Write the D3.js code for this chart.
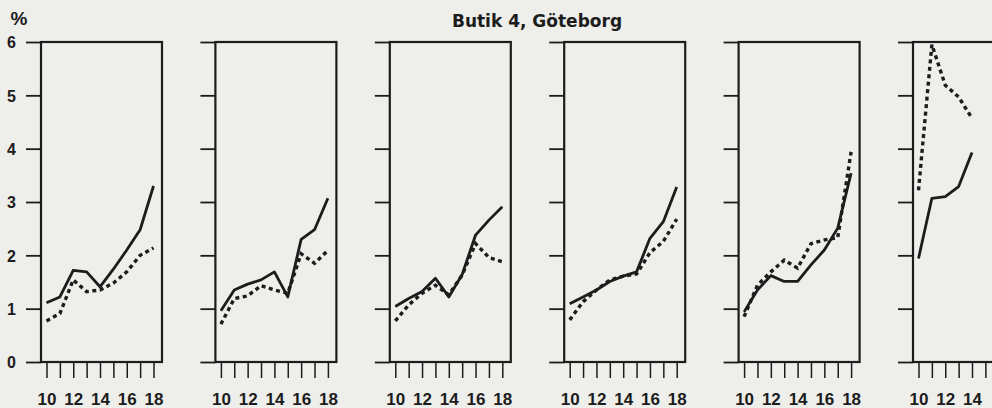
<!DOCTYPE html>
<html>
<head>
<meta charset="utf-8">
<script src="https://cdnjs.cloudflare.com/ajax/libs/d3/7.8.5/d3.min.js"></script>
<style>
body { margin: 0; background: #eeeeeb; }
svg { display: block; }
.tick text { font-family: "Liberation Sans Narrow", "Liberation Sans", sans-serif; font-weight: bold; fill: #1c1c1c; }
</style>
</head>
<body>
<script>
/* Data */
var title = "Butik 4, Göteborg";
var years = [10, 11, 12, 13, 14, 15, 16, 17, 18];
var yTicks = [0, 1, 2, 3, 4, 5, 6];

// solid line, one array per panel
var solid = [
	[1.11, 1.22, 1.72, 1.69, 1.41, 1.74, 2.10, 2.48, 3.30],
	[0.96, 1.35, 1.46, 1.54, 1.69, 1.22, 2.30, 2.48, 3.07],
	[1.04, 1.19, 1.32, 1.57, 1.22, 1.64, 2.38, 2.66, 2.91],
	[1.09, 1.22, 1.35, 1.51, 1.61, 1.69, 2.32, 2.63, 3.28],
	[0.94, 1.35, 1.62, 1.51, 1.51, 1.82, 2.10, 2.51, 3.54],
	[1.94, 3.07, 3.10, 3.29, 3.93, null, null, null, null]
];
// dashed line, one array per panel
var dashed = [
	[0.77, 0.91, 1.54, 1.32, 1.35, 1.48, 1.69, 2.00, 2.14],
	[0.71, 1.19, 1.24, 1.43, 1.35, 1.29, 2.03, 1.85, 2.09],
	[0.77, 1.07, 1.29, 1.44, 1.26, 1.63, 2.22, 1.96, 1.88],
	[0.79, 1.13, 1.35, 1.54, 1.61, 1.65, 2.05, 2.26, 2.68],
	[0.85, 1.44, 1.69, 1.91, 1.76, 2.22, 2.29, 2.33, 3.94],
	[3.22, 5.95, 5.19, 4.97, 4.57, null, null, null, null]
];

/* Display setup */
var W = 992, H = 408,
	ink = "#1c1c1c",
	frame = {top: 42, bottom: 362, width: 121},
	firstLeft = 41, panelStep = 174.4,
	svg = d3.select("body").append("svg")
		.attr("width", W)
		.attr("height", H);

var y = d3.scaleLinear().domain([0, 6]).range([frame.bottom, frame.top]);

// title and unit
svg.append("text")
	.attr("x", 537).attr("y", 27)
	.attr("text-anchor", "middle")
	.style("font-family", "DejaVu Sans, sans-serif")
	.style("font-weight", "bold")
	.style("font-size", "17px")
	.style("fill", ink)
	.text(title);

svg.append("text")
	.attr("x", 19).attr("y", 25)
	.attr("text-anchor", "middle")
	.style("font-family", "Liberation Sans, sans-serif")
	.style("font-weight", "bold")
	.style("font-size", "19px")
	.style("fill", ink)
	.text("%");

solid.forEach(function(s, i) {
	var left = firstLeft + i * panelStep;
	var x = d3.scaleLinear().domain([10, 18]).range([left + 5.5, left + 112.5]);
	var g = svg.append("g");

	// y axis: ticks stick out to the left, labels on the first panel only
	var yAxis = d3.axisLeft(y)
		.tickValues(yTicks)
		.tickSize(15)
		.tickPadding(10)
		.tickFormat(i == 0 ? d3.format("d") : "");
	var ya = g.append("g")
		.attr("transform", "translate(" + left + ",0)")
		.call(yAxis);
	ya.select(".domain").remove();
	ya.selectAll("line").attr("stroke", ink).attr("stroke-width", 1.8);
	ya.selectAll("text").style("font-size", "16px").attr("dy", "0.36em");

	// x axis: a tick every year, label every second year (the last panel runs off the page)
	var xAxis = d3.axisBottom(x)
		.tickValues(years)
		.tickSize(16)
		.tickFormat(function(d) { return d % 2 == 0 && x(d) + 9 < W ? d : ""; });
	var xa = g.append("g")
		.attr("transform", "translate(0," + frame.bottom + ")")
		.call(xAxis);
	xa.select(".domain").remove();
	xa.selectAll("line").attr("stroke", ink).attr("stroke-width", 1.5);
	xa.selectAll("text")
		.style("font-size", "17px")
		.attr("y", 43).attr("dy", 0);

	// frame
	g.append("rect")
		.attr("x", left).attr("y", frame.top)
		.attr("width", frame.width).attr("height", frame.bottom - frame.top)
		.attr("fill", "none")
		.attr("stroke", ink)
		.attr("stroke-width", 2.2);

	var line = d3.line()
		.defined(function(d) { return d != null; })
		.x(function(d, j) { return x(years[j]); })
		.y(function(d) { return y(d); });

	g.append("path")
		.attr("d", line(dashed[i]))
		.attr("fill", "none")
		.attr("stroke", ink)
		.attr("stroke-width", 3.4)
		.attr("stroke-dasharray", "4,3.5");

	g.append("path")
		.attr("d", line(s))
		.attr("fill", "none")
		.attr("stroke", ink)
		.attr("stroke-width", 2.8)
		.attr("stroke-linejoin", "round");
});
</script>
</body>
</html>
